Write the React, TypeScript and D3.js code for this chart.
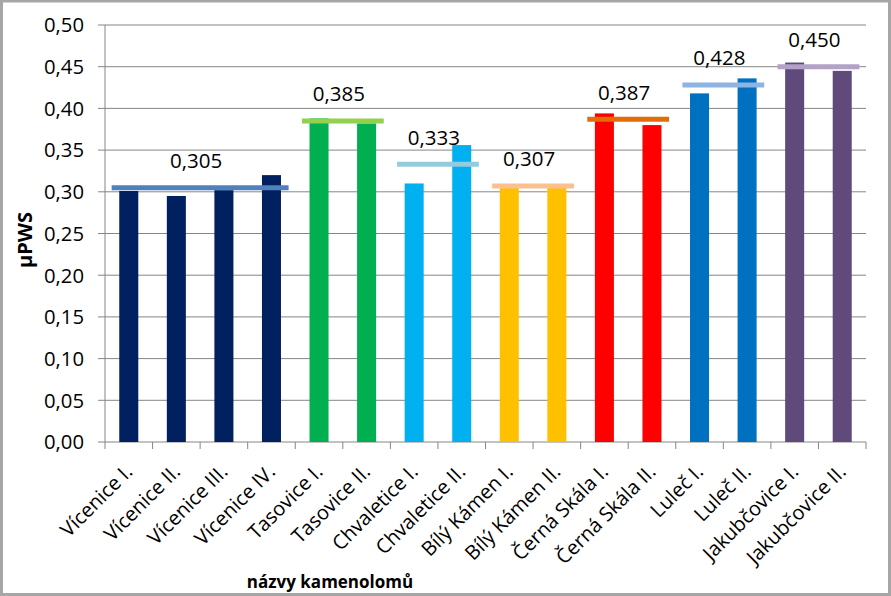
import React from "react";
import * as d3 from "d3";

const categories = [
  "Vícenice I.", "Vícenice II.", "Vícenice III.", "Vícenice IV.",
  "Tasovice I.", "Tasovice II.", "Chvaletice I.", "Chvaletice II.",
  "Bílý Kámen I.", "Bílý Kámen II.", "Černá Skála I.", "Černá Skála II.",
  "Luleč I.", "Luleč II.", "Jakubčovice I.", "Jakubčovice II.",
];
const values = [
  0.301, 0.295, 0.302, 0.320,
  0.388, 0.382, 0.310, 0.356,
  0.305, 0.308, 0.394, 0.380,
  0.418, 0.436, 0.455, 0.445,
];
const groupOf = [0, 0, 0, 0, 1, 1, 2, 2, 3, 3, 4, 4, 5, 5, 6, 6];
const groupMeans = [0.305, 0.385, 0.333, 0.307, 0.387, 0.428, 0.450];
const groupLabels = ["0,305", "0,385", "0,333", "0,307", "0,387", "0,428", "0,450"];
const barColors = ["#002060", "#00B050", "#00B0F0", "#FFC000", "#FF0000", "#0070C0", "#604A7B"];
const lineColors = ["#4F81BD", "#92D050", "#93CDDD", "#FAC090", "#E36C09", "#8EB4E3", "#B3A2C7"];
const yTicks = [0, 0.05, 0.1, 0.15, 0.2, 0.25, 0.3, 0.35, 0.4, 0.45, 0.5];
const yTitle = "µPWS";
const xTitle = "názvy kamenolomů";

const W = 891;
const H = 596;
const left = 105;
const right = 866;
const top = 25;
const bottom = 442;
const FONT = "'Open Sans', 'Liberation Sans', sans-serif";

export default function App() {
  const x = d3.scaleBand<string>().domain(categories).range([left, right]).padding(0);
  const y = d3.scaleLinear().domain([0, 0.5]).range([bottom, top]);
  const bw = x.bandwidth();
  const barW = bw * 0.4;
  const fmt = (v: number) => d3.format(".2f")(v).replace(".", ",");

  const groups = groupMeans.map((m, g) => {
    const idx = groupOf.map((gg, i) => (gg === g ? i : -1)).filter((i) => i >= 0);
    const c0 = (x(categories[idx[0]]) as number) + bw / 2;
    const c1 = (x(categories[idx[idx.length - 1]]) as number) + bw / 2;
    return { m, g, c0, c1 };
  });

  return (
    <svg
      width={W}
      height={H}
      style={{ position: "absolute", left: 0, top: 0, background: "#fff" }}
      fontFamily={FONT}
    >
      <rect x={1.5} y={1} width={W - 3} height={H - 2.5} fill="#fff" stroke="#A6A6A6" strokeWidth={3} />
      {/* gridlines and y ticks */}
      {yTicks.map((t) => (
        <g key={t}>
          <line x1={left - 7} x2={right} y1={y(t)} y2={y(t)} stroke="#868686" strokeWidth={1} />
          <text x={84} y={y(t)} dy="0.36em" textAnchor="end" fontSize={20.3} fill="#000">
            {fmt(t)}
          </text>
        </g>
      ))}
      <line x1={left} x2={left} y1={top} y2={bottom} stroke="#868686" />
      {/* x ticks */}
      {d3.range(categories.length + 1).map((i) => {
        const xx = left + i * bw;
        return <line key={i} x1={xx} x2={xx} y1={bottom} y2={bottom + 7} stroke="#868686" />;
      })}
      {/* bars */}
      {categories.map((c, i) => (
        <rect
          key={c}
          x={(x(c) as number) + (bw - barW) / 2}
          y={y(values[i])}
          width={barW}
          height={bottom - y(values[i])}
          fill={barColors[groupOf[i]]}
        />
      ))}
      {/* group mean lines */}
      {groups.map(({ m, g, c0, c1 }) => (
        <g key={g}>
          <line
            x1={c0 - bw * 0.36}
            x2={c1 + bw * 0.36}
            y1={y(m)}
            y2={y(m)}
            stroke={lineColors[g]}
            strokeWidth={5}
          />
          <text
            x={(c0 + c1) / 2 - 4}
            y={y(m) - 27}
            dy="0.36em"
            textAnchor="middle"
            fontSize={20.5}
            fill="#000"
          >
            {groupLabels[g]}
          </text>
        </g>
      ))}
      {/* category labels */}
      {categories.map((c) => {
        const cx = (x(c) as number) + bw / 2;
        return (
          <text
            key={c}
            transform={`translate(${cx + 5},${bottom + 31}) rotate(-45)`}
            textAnchor="end"
            fontSize={20}
            fill="#000"
          >
            {c}
          </text>
        );
      })}
      <text
        transform={`translate(32,240) rotate(-90)`}
        textAnchor="middle"
        fontSize={20}
        fontWeight="bold"
        fill="#000"
      >
        {yTitle}
      </text>
      <text x={330} y={588} textAnchor="middle" fontSize={17} fontWeight="bold" fill="#000">
        {xTitle}
      </text>
    </svg>
  );
}
